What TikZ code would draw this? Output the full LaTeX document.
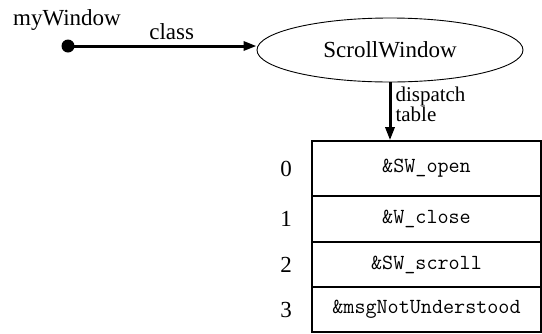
\documentclass[tikz,border=0pt]{standalone}
\usepackage{fontspec}
\setmainfont{Liberation Serif}
\usetikzlibrary{arrows.meta,shapes.geometric}
\tikzset{
lbl/.style={font={\fontsize{23}{14}\selectfont\lineskiplimit-20pt\relax}, inner sep=0pt},
cell/.style={draw, line width=1.6pt, minimum width=229pt, inner sep=0pt, font=\ttfamily\fontsize{21.5}{21.5}\selectfont},
ptr/.style={line width=3pt, -{Triangle[length=13pt,width=9pt]}}
}
\begin{document}
\begin{tikzpicture}[x=1pt,y=-1pt]
\useasboundingbox (0,0) rectangle (542,333);
\node[lbl, anchor=base] (obj) at (67,25) {myWindow};
\node[circle, fill, inner sep=0pt, minimum size=13pt] (dot) at (68,46) {};
\node[ellipse, draw, line width=0.9pt, minimum width=266pt, minimum height=64pt, inner sep=0pt, font=\fontsize{23}{23}\selectfont] (cls) at (390,50) {ScrollWindow};
\foreach \i/\top/\bot/\fn in {0/141/196/\&SW\_open, 1/196/242/\&W\_close, 2/242/287/\&SW\_scroll, 3/287/332/\&msgNotUnderstood}{
\node[cell, minimum height={(\bot-\top)*1pt}] (row\i) at (426.5,{(\top+\bot)/2}) {\fn};
\node[lbl] (n\i) at ([xshift=-25pt]row\i.west) {\i};
}
\draw[ptr] (dot.center) -- node[lbl, pos=0.55, anchor=base, yshift=7pt] (cl) {class} (cls.west |- dot);
\draw[ptr] (cls.south) -- node[lbl, font={\fontsize{21}{17}\selectfont}, right, align=left, xshift=4pt, yshift=7pt] (dt) {dispatch\\table} (cls.south |- row0.north);
\end{tikzpicture}
\end{document}
